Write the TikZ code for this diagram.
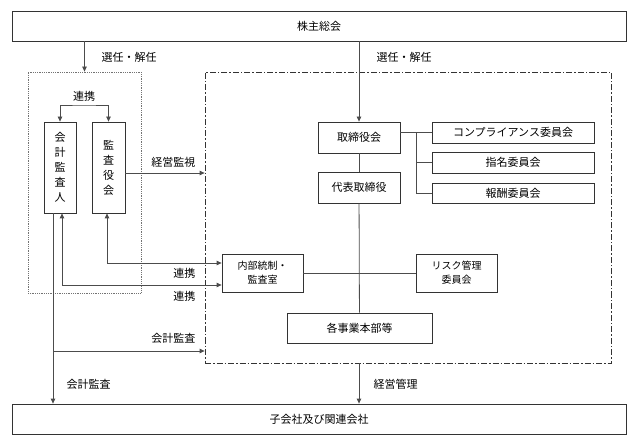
\documentclass[tikz,border=0pt]{standalone}
\usepackage{fontspec}
\setmainfont{Noto Sans CJK JP}
\usetikzlibrary{arrows.meta}
\begin{document}
\begin{tikzpicture}[x=1pt,y=-1pt,font=\fontsize{11}{13}\selectfont]
        \tikzstyle{boite}=[draw=black!80,line width=0.8pt,inner sep=0pt,align=center]
        \tikzstyle{lien}=[draw=black!70,line width=0.8pt]
        \tikzstyle{fleche}=[lien,-{Triangle[length=5pt,width=4.5pt]}]
        \tikzstyle{double}=[lien,{Triangle[length=5pt,width=4.5pt]}-{Triangle[length=5pt,width=4.5pt]}]
        \useasboundingbox (0,0) rectangle (637,446);
        % cadres
        \node[boite,minimum width=614,minimum height=30] (kabu) at (319,26) {株主総会};
        \node[boite,minimum width=614,minimum height=30] (kogaisha) at (319,419) {子会社及び関連会社};
        \node[draw=black!55,densely dotted,line width=0.8pt,minimum width=113,minimum height=221] (kansagroup) at (84.5,182.5) {};
        \node[draw=black!80,line width=0.8pt,dash pattern=on 6pt off 2pt on 1.5pt off 2pt,minimum width=406,minimum height=291] (torigroup) at (408,217.5) {};
        \node[boite,minimum width=32,minimum height=91,font=\fontsize{11}{15}\selectfont] (kaikei) at (60,167.5) {会\\計\\監\\査\\人};
        \node[boite,minimum width=33,minimum height=91,font=\fontsize{11}{15}\selectfont] (kansayaku) at (108.5,167.5) {監\\査\\役\\会};
        \node[boite,minimum width=82,minimum height=31] (torishimari) at (359,137.5) {取締役会};
        \node[boite,minimum width=82,minimum height=31] (daihyo) at (359,187.5) {代表取締役};
        \node[boite,minimum width=162,minimum height=21] (comp) at (513,132.5) {コンプライアンス委員会};
        \node[boite,minimum width=162,minimum height=21] (shimei) at (513,162.5) {指名委員会};
        \node[boite,minimum width=162,minimum height=20] (hoshu) at (513,193) {報酬委員会};
        \node[boite,minimum width=81,minimum height=38,font=\fontsize{10}{14}\selectfont] (naibu) at (262.5,273) {内部統制・\\監査室};
        \node[boite,minimum width=81,minimum height=38,font=\fontsize{10}{14}\selectfont] (risk) at (456.5,273) {リスク管理\\委員会};
        \node[boite,minimum width=145,minimum height=30] (jigyo) at (359.5,328) {各事業本部等};
        % liaisons
        \coordinate (renkei) at (84,105);
        \coordinate (bus) at (416,132.5);
        \coordinate (kk) at (53,351);
        \draw[fleche] (kabu.south -| kansagroup.north) -- (kansagroup.north);
        \draw[fleche] (kabu.south -| torishimari.north) -- (torishimari.north);
        \draw[double] (kaikei.north) |- (renkei) -| (kansayaku.north);
        \draw[fleche] ([yshift=-5.5pt]kansayaku.east) -- ([yshift=-5.5pt]kansayaku.east -| torigroup.west);
        \draw[double] ([xshift=-1.5pt]kansayaku.south) |- ([yshift=10pt]naibu.west);
        \draw[double] ([xshift=2pt]kaikei.south) |- ([yshift=-12pt]naibu.west);
        \draw[fleche] ([xshift=-7pt]kaikei.south) -- ([xshift=-7pt]kaikei.south |- kogaisha.north);
        \draw[fleche] (kk) -- (kk -| torigroup.west);
        \draw[lien] (torishimari) -- (daihyo);
        \draw[lien] (daihyo) -- (jigyo);
        \draw[lien] (naibu) -- (risk);
        \draw[lien] (comp.west -| torishimari.east) -- (comp.west);
        \draw[lien] (bus) |- (hoshu.west);
        \draw[lien] (bus |- shimei.west) -- (shimei.west);
        \draw[fleche] (torigroup.south -| torishimari) -- (kogaisha.north -| torishimari);
        % textes
        \node[anchor=west] (t1) at (98,57) {選任・解任};
        \node[anchor=west] (t2) at (373,57) {選任・解任};
        \node (t3) at (84,96) {連携};
        \node[anchor=east] (t4) at (199,162) {経営監視};
        \node[anchor=east] (t5) at (199,273) {連携};
        \node[anchor=east] (t6) at (199,296) {連携};
        \node[anchor=east] (t7) at (199,338) {会計監査};
        \node[anchor=west] (t8) at (63,384) {会計監査};
        \node[anchor=west] (t9) at (370,384) {経営管理};
    \end{tikzpicture}
\end{document}
